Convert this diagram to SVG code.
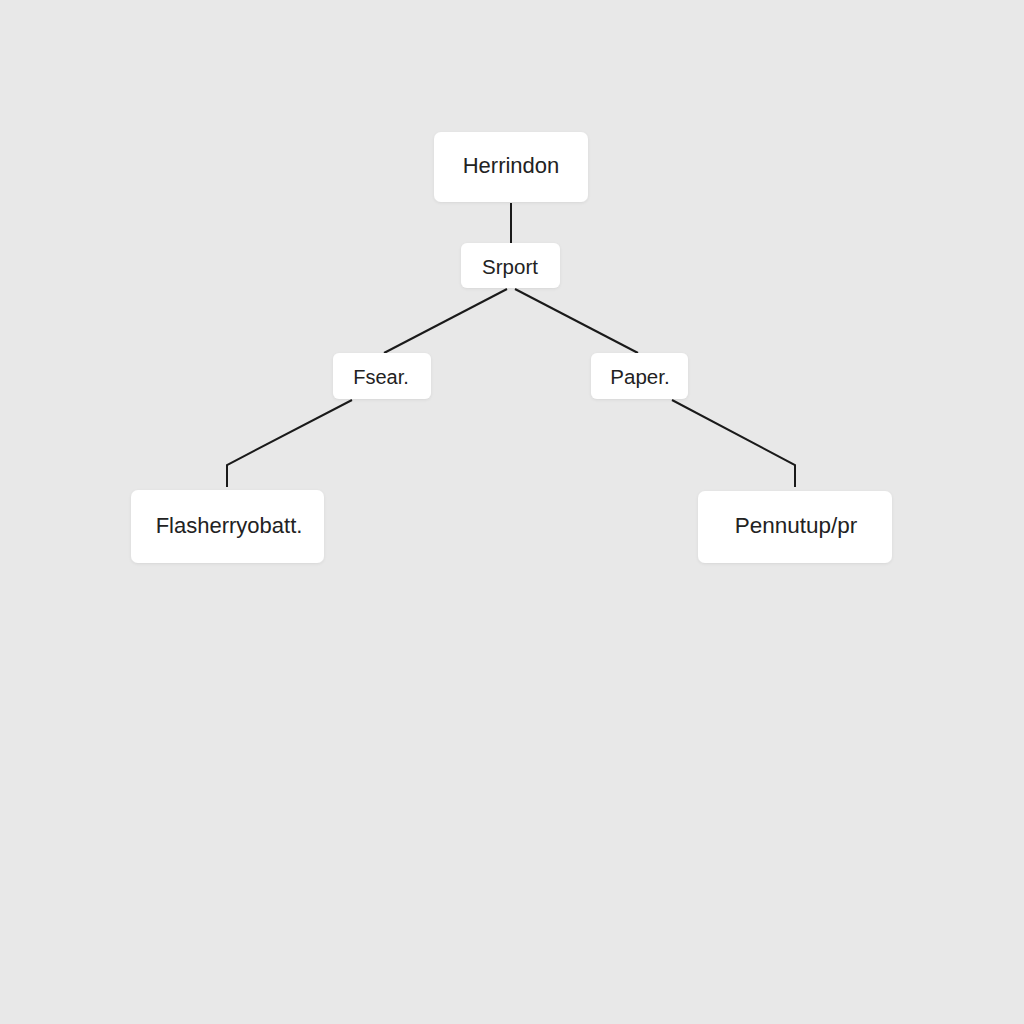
<svg xmlns="http://www.w3.org/2000/svg" width="1024" height="1024" viewBox="0 0 1024 1024">
<defs>
<filter id="sh" x="-10%" y="-10%" width="120%" height="130%">
<feDropShadow dx="0" dy="1" stdDeviation="1.5" flood-color="#000" flood-opacity="0.08"/>
</filter>
</defs>
<style>
.box{fill:#ffffff;filter:url(#sh)}
.lbl{font-family:"Liberation Sans",Arial,sans-serif;fill:#222222;text-anchor:middle}
.con{fill:none;stroke:#1a1a1a;stroke-width:2;stroke-linejoin:miter}
</style>
<rect x="0" y="0" width="1024" height="1024" fill="#e8e8e8"/>
<g id="connectors">
<line class="con" x1="511" y1="203" x2="511" y2="243"/>
<line class="con" x1="507" y1="289" x2="384" y2="353"/>
<line class="con" x1="515" y1="289" x2="638" y2="353"/>
<polyline class="con" points="352,400 227,465 227,487"/>
<polyline class="con" points="672,400 795,465 795,487"/>
</g>
<g id="node-herrindon">
<rect class="box" x="434" y="132" width="154" height="70" rx="7"/>
<text class="lbl" x="511" y="173" font-size="22">Herrindon</text>
</g>
<g id="node-srport">
<rect class="box" x="461" y="243" width="99" height="45" rx="6"/>
<text class="lbl" x="510" y="274" font-size="20.5">Srport</text>
</g>
<g id="node-fsear">
<rect class="box" x="333" y="353" width="98" height="46" rx="6"/>
<text class="lbl" x="381" y="384" font-size="20">Fsear.</text>
</g>
<g id="node-paper">
<rect class="box" x="591" y="353" width="97" height="46" rx="6"/>
<text class="lbl" x="640" y="384" font-size="20.5">Paper.</text>
</g>
<g id="node-flasherryobatt">
<rect class="box" x="131" y="490" width="193" height="73" rx="7"/>
<text class="lbl" x="229" y="533" font-size="22">Flasherryobatt.</text>
</g>
<g id="node-pennutup">
<rect class="box" x="698" y="491" width="194" height="72" rx="7"/>
<text class="lbl" x="796" y="533" font-size="22.5">Pennutup/pr</text>
</g>
</svg>
